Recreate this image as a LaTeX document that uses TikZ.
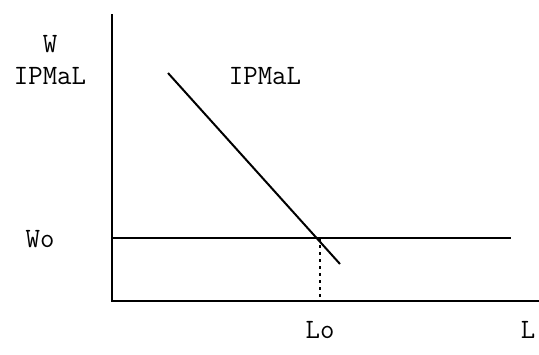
\documentclass[tikz,border=0pt]{standalone}
\usepackage{fontspec}
\begin{document}
\begin{tikzpicture}[x=1pt,y=-1pt,
  lbl/.style={font=\ttfamily\fontsize{28}{30}\selectfont, inner sep=0pt},
  ln/.style={line width=2pt}]
\useasboundingbox (0,0) rectangle (539,354);
% axes
\coordinate (ytop) at (112,14);
\coordinate (orig) at (112,301);
\coordinate (xend) at (539,301);
\draw[ln] (ytop) -- (orig) -- (xend);
% Wo line
\coordinate (w0) at (112,238);
\coordinate (w1) at (511,238);
\draw[ln] (w0) -- (w1);
% demand line
\coordinate (d0) at (168,73);
\coordinate (d1) at (340,264);
\draw[ln] (d0) -- (d1);
% dotted
\coordinate (e) at (320,238);
\coordinate (ex) at (320,297);
\draw[line width=2pt, dash pattern=on 3pt off 4pt] (e) -- (ex);
% labels
\node[lbl] (W) at (50,44) {W};
\node[lbl] (Y) at (50,76) {IPMaL};
\node[lbl] (C) at (265,76) {IPMaL};
\node[lbl] (Wo) at (40,239) {Wo};
\node[lbl] (Lo) at (320,330) {Lo};
\node[lbl] (L) at (528,330) {L};
\end{tikzpicture}
\end{document}
